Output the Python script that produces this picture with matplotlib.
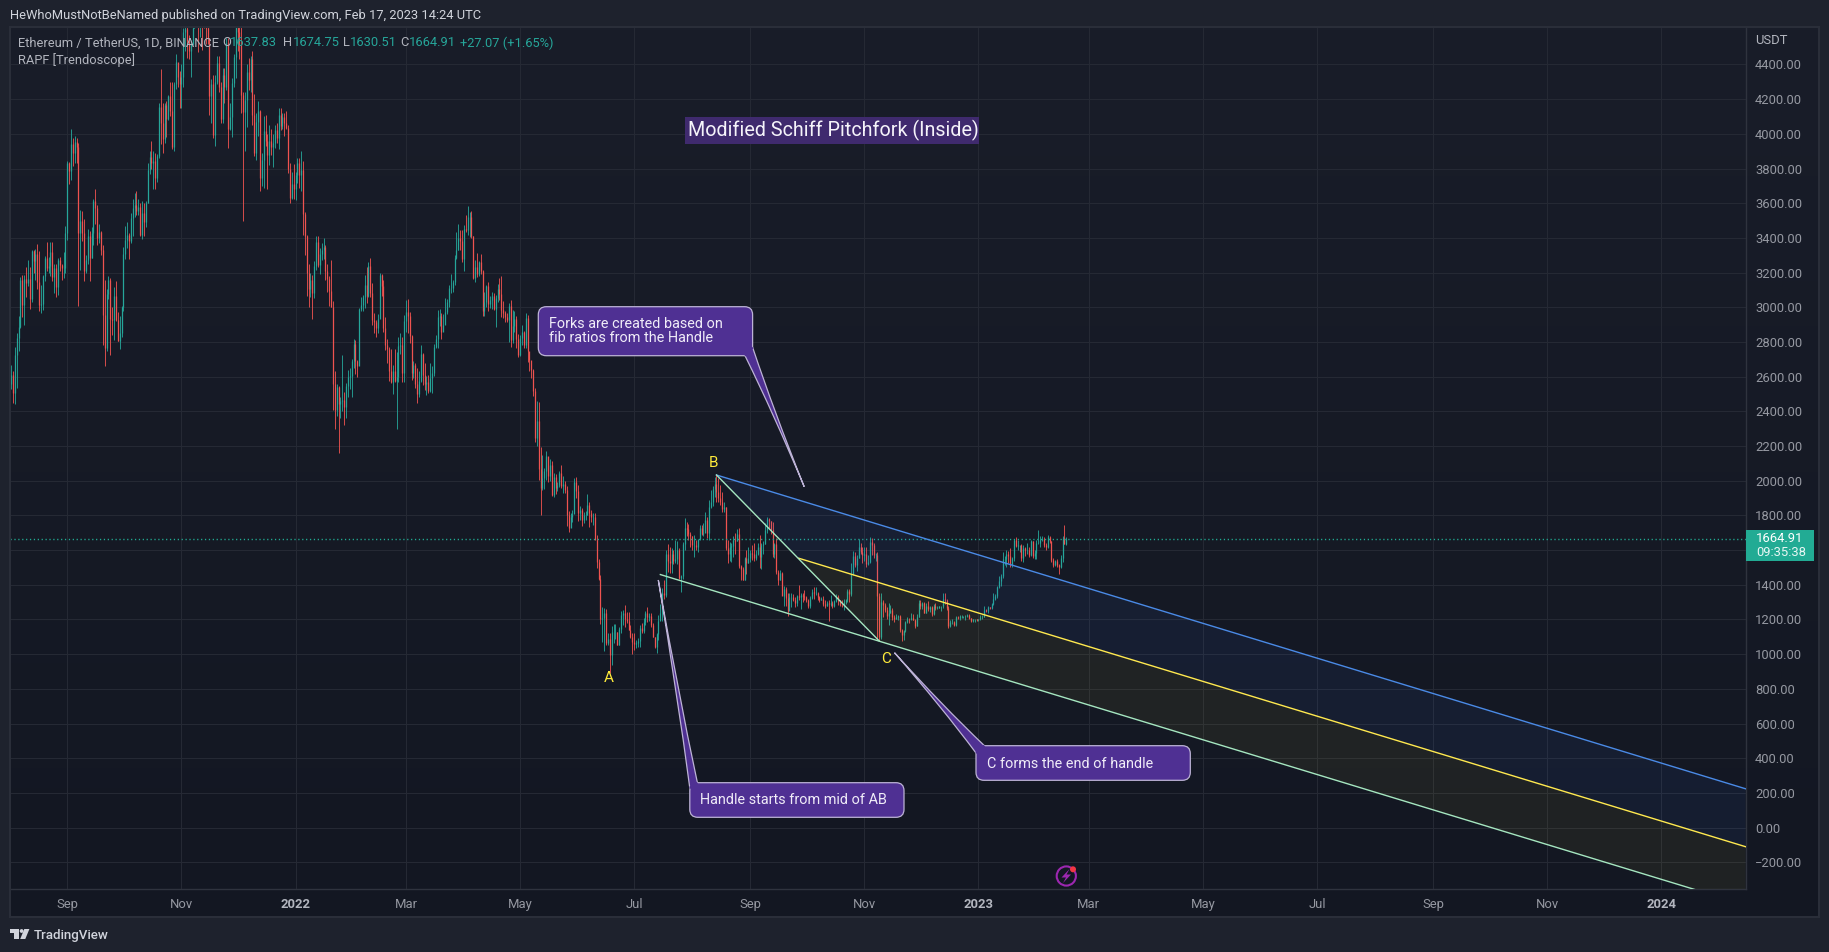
import matplotlib
matplotlib.use('Agg')
import matplotlib.pyplot as plt
import matplotlib.dates as mdates
import numpy as np
import pandas as pd
from matplotlib.patches import FancyBboxPatch, PathPatch, Circle, Polygon, Rectangle
from matplotlib.path import Path

plt.rcParams['font.family'] = ['Roboto', 'DejaVu Sans']

# daily candles, one row per month, Aug 2 2021 .. Feb 17 2023
closes = [
    2608,2507,2725,2825,2889,3157,3012,3163,3141,3164,3045,3322,3265,3309,3148,3013,3018,3181,3287,3225,3238,3320,3172,3227,3116,3274,3244,3224,3226,3431,
    3834,3787,3940,3887,3952,3927,3430,3497,3427,3211,3270,3410,3285,3429,3613,3570,3397,3434,3329,2958,2764,3077,3155,2930,2925,3063,2927,2807,2849,3001,
    3310,3390,3418,3382,3515,3575,3587,3558,3579,3414,3544,3490,3603,3790,3866,3830,3846,3745,3875,4157,4060,3970,4167,4083,4219,4130,3925,4285,4415,4325,4288,
    4325,4588,4607,4537,4476,4518,4612,4807,4732,4636,4727,4668,4649,4610,4554,4216,4289,3992,4298,4410,4270,4087,4340,4270,4522,4030,4098,4294,4444,4630,
    4585,4510,4225,4125,4195,4355,4310,4430,4110,3890,4070,4130,3745,3850,4015,3960,3880,3960,3925,3945,4020,3975,4110,4045,4095,4065,4035,3795,3630,3710,3680,
    3765,3830,3760,3790,3540,3410,3195,3105,3155,3085,3240,3375,3245,3310,3330,3350,3210,3165,3095,3000,2560,2405,2540,2440,2460,2465,2425,2545,2600,2605,2690,
    2790,2690,2660,2990,3015,3060,3130,3065,3240,3080,2925,2915,2880,2930,3185,3125,2880,2785,2760,2630,2570,2635,2575,2600,2775,2780,2620,2920,
    2975,2950,2835,2620,2665,2555,2500,2575,2730,2610,2555,2570,2515,2590,2620,2770,2815,2945,2950,2860,2895,2970,3030,3110,3110,3145,3285,3330,3400,3385,3280,
    3450,3445,3520,3520,3410,3170,3235,3190,3260,3210,2980,3030,3120,3020,3040,3065,2990,3055,3105,3075,2985,2965,2945,2925,3010,2810,2890,2935,2815,2725,
    2825,2855,2780,2940,2750,2695,2640,2520,2245,2345,2070,1960,2015,2055,2145,2025,2090,1915,2020,1960,1975,2045,1970,1980,1945,1805,1725,1790,1810,1995,1940,
    1815,1830,1775,1805,1805,1860,1815,1790,1790,1660,1530,1435,1205,1210,1235,1065,1090,995,1125,1125,1125,1050,1145,1225,1240,1200,1190,1140,1100,1070,
    1060,1065,1075,1150,1135,1185,1240,1215,1220,1170,1100,1040,1115,1190,1235,1355,1340,1580,1540,1525,1575,1535,1550,1600,1440,1450,1635,1725,1720,1695,1680,
    1630,1630,1620,1665,1725,1695,1700,1775,1700,1850,1880,1955,1980,1935,1900,1880,1835,1850,1610,1575,1620,1625,1660,1655,1695,1510,1490,1430,1555,1525,1555,
    1585,1575,1555,1575,1615,1560,1630,1635,1715,1780,1765,1715,1575,1635,1475,1430,1470,1335,1375,1325,1250,1330,1330,1315,1295,1335,1330,1340,1335,1330,
    1310,1275,1325,1360,1350,1350,1330,1315,1320,1290,1280,1295,1290,1295,1275,1305,1330,1310,1285,1280,1300,1315,1365,1345,1460,1565,1515,1555,1620,1590,1570,
    1580,1520,1530,1645,1630,1570,1570,1335,1100,1300,1285,1255,1220,1240,1255,1215,1200,1215,1220,1140,1110,1135,1185,1205,1200,1210,1195,1165,1215,1295,
    1275,1295,1240,1280,1260,1270,1230,1280,1265,1265,1275,1275,1320,1310,1265,1165,1185,1185,1170,1215,1210,1220,1220,1220,1220,1225,1210,1190,1200,1200,1195,
    1200,1215,1215,1255,1250,1270,1265,1290,1320,1335,1385,1420,1450,1550,1550,1575,1565,1515,1555,1660,1625,1630,1630,1555,1610,1600,1600,1570,1650,1565,1585,
    1640,1640,1660,1665,1630,1615,1675,1650,1545,1515,1540,1515,1505,1555,1670,1637.83,1664.91,
]
highs = [
    2665,2630,2772,2850,2950,3175,3185,3185,3230,3275,3230,3330,3330,3335,3365,3325,3130,3185,3295,3375,3290,3375,3375,3250,3250,3285,3290,3250,3320,3470,
    3845,3840,4028,3975,3985,3975,3950,3560,3555,3510,3300,3450,3440,3460,3625,3680,3590,3480,3440,3360,3160,3105,3180,3170,3000,3115,3150,2970,2950,3010,
    3345,3470,3490,3430,3545,3625,3660,3670,3625,3600,3615,3600,3615,3830,3900,3960,3900,3890,3885,4180,4375,4180,4180,4190,4225,4300,4300,4300,4460,4400,4365,
    4400,4610,4665,4670,4570,4540,4660,4825,4870,4870,4780,4810,4700,4690,4770,4555,4315,4340,4340,4450,4450,4300,4380,4380,4555,4555,4180,4320,4460,4780,
    4780,4640,4650,4240,4240,4400,4440,4450,4480,4230,4120,4190,4140,3890,4100,4110,4000,4050,4030,4000,4050,4060,4150,4150,4120,4120,4130,4050,3830,3780,3825,
    3780,3860,3860,3900,3845,3550,3415,3250,3200,3185,3265,3410,3410,3340,3370,3400,3360,3250,3180,3270,3035,2630,2560,2545,2485,2725,2510,2565,2640,2650,2700,
    2815,2810,2695,2995,3060,3070,3185,3230,3260,3285,3140,2965,2925,2960,3200,3190,3160,2945,2815,2770,2760,2670,2760,2740,2830,2850,2830,2955,
    3040,3048,2973,2840,2690,2680,2650,2630,2780,2736,2680,2605,2610,2677,2660,2786,2840,2984,2988,2969,2961,3052,3047,3128,3192,3157,3301,3436,3480,3445,3445,
    3475,3532,3584,3551,3555,3411,3272,3315,3267,3307,3215,3086,3128,3144,3065,3086,3080,3071,3134,3167,3180,3036,2978,2969,3023,3042,2984,2980,2950,2846,
    2840,2898,2865,2969,2955,2706,2667,2644,2533,2460,2452,2192,2148,2071,2171,2138,2125,2113,2045,2037,1990,2055,2090,2030,2000,1969,1825,1812,1831,2017,2023,
    1975,1854,1840,1822,1825,1923,1875,1831,1812,1812,1687,1549,1456,1274,1264,1260,1120,1120,1164,1174,1174,1130,1158,1249,1255,1283,1245,1245,1168,1120,
    1120,1081,1091,1168,1178,1210,1250,1273,1240,1235,1178,1100,1120,1225,1289,1380,1430,1600,1635,1620,1610,1600,1658,1650,1610,1455,1648,1783,1763,1753,1706,
    1680,1687,1658,1660,1745,1745,1755,1818,1793,1889,1946,1970,2023,2033,2013,1975,1937,1880,1850,1658,1648,1640,1680,1700,1720,1725,1515,1505,1560,1600,1620,
    1600,1630,1640,1600,1640,1687,1640,1655,1755,1790,1785,1765,1764,1640,1667,1485,1485,1475,1395,1390,1350,1350,1350,1345,1330,1340,1400,1350,1350,1370,
    1335,1320,1335,1375,1385,1385,1360,1335,1330,1335,1310,1305,1310,1340,1305,1315,1345,1340,1315,1310,1320,1320,1375,1375,1523,1595,1590,1570,1665,1640,1620,
    1620,1620,1570,1677,1672,1640,1585,1590,1355,1350,1310,1295,1270,1295,1285,1265,1225,1230,1225,1225,1145,1140,1190,1215,1210,1235,1230,1200,1230,1312,
    1315,1300,1300,1295,1305,1280,1275,1290,1295,1275,1280,1280,1350,1350,1320,1275,1195,1200,1190,1220,1220,1225,1225,1222,1225,1230,1230,1210,1205,1205,1205,
    1205,1225,1225,1275,1260,1280,1270,1295,1355,1345,1395,1450,1460,1590,1565,1600,1595,1610,1560,1665,1675,1660,1630,1635,1630,1620,1640,1615,1660,1650,1600,
    1660,1715,1680,1680,1675,1640,1685,1680,1650,1555,1545,1550,1520,1570,1680,1745,1674.75,
]
lows = [
    2530,2450,2445,2535,2750,2880,2945,2900,3060,3120,2990,3030,3200,3160,3105,2980,2965,2985,3150,3210,3200,3180,3150,3080,3060,3070,3210,3160,3170,3200,
    3390,3710,3735,3815,3830,3830,3010,3215,3380,3150,3200,3250,3150,3285,3360,3480,3360,3370,3300,2780,2660,2750,3045,2725,2840,2810,2920,2805,2760,2830,
    2980,3280,3340,3280,3370,3410,3520,3530,3530,3410,3395,3410,3460,3600,3770,3800,3680,3680,3720,3860,3940,3890,3950,3980,4080,4100,3910,3900,4260,4270,4150,
    4150,4270,4480,4440,4430,4330,4515,4610,4650,4470,4560,4485,4610,4520,4520,4110,4060,3975,3930,4290,4240,4060,4060,4180,4250,3920,4020,3980,4270,4320,
    4480,4430,4120,3500,3900,4040,4250,4240,4050,3870,3850,3990,3670,3700,3690,3930,3680,3820,3880,3810,3920,3950,3915,4020,4030,3990,4030,3775,3600,3625,3625,
    3620,3715,3685,3670,3415,3300,3065,3000,3060,2930,3055,3215,3230,3190,3270,3280,3160,3090,3010,3000,2410,2300,2375,2160,2360,2400,2320,2360,2480,2530,2480,
    2650,2615,2600,2680,2980,2980,2995,3025,3060,3060,2900,2850,2830,2850,2975,3065,2855,2755,2680,2575,2565,2500,2570,2300,2570,2730,2570,2570,
    2860,2850,2792,2580,2590,2537,2450,2485,2571,2552,2523,2494,2504,2513,2505,2604,2763,2767,2892,2817,2888,2923,2960,3004,3080,3090,3128,3280,3330,3330,3263,
    3211,3436,3417,3407,3401,3165,3148,3176,3182,3192,2952,2952,3000,2978,2998,2990,2984,2888,3032,3042,2946,2936,2917,2917,2802,2773,2792,2860,2763,2715,
    2719,2782,2763,2763,2687,2635,2590,2490,2225,2202,2004,1802,1947,1952,2004,1990,2000,1910,1905,1925,1940,1965,1960,1930,1930,1741,1706,1735,1764,1812,1900,
    1770,1773,1741,1754,1775,1803,1731,1764,1745,1668,1495,1428,1174,1072,1020,1053,1053,890,937,1062,1090,1053,1053,1120,1170,1158,1180,1140,1091,1003,
    1024,1033,1043,1043,1120,1124,1170,1186,1190,1158,1101,1033,1008,1081,1197,1190,1320,1332,1475,1466,1470,1520,1524,1520,1431,1360,1435,1600,1680,1660,1620,
    1600,1562,1600,1590,1658,1687,1680,1735,1668,1658,1840,1855,1908,1880,1880,1860,1822,1820,1600,1524,1540,1530,1562,1580,1650,1495,1428,1428,1425,1465,1525,
    1530,1543,1540,1545,1570,1495,1490,1580,1635,1700,1730,1690,1562,1555,1465,1400,1430,1340,1280,1275,1221,1255,1270,1305,1270,1280,1310,1260,1300,1315,
    1300,1265,1265,1320,1320,1340,1315,1300,1310,1280,1265,1275,1193,1280,1265,1270,1300,1285,1280,1270,1255,1290,1300,1300,1335,1456,1505,1480,1552,1575,1525,
    1540,1505,1515,1523,1572,1553,1540,1085,1075,1090,1215,1245,1205,1170,1235,1195,1185,1200,1195,1125,1075,1080,1130,1180,1180,1195,1195,1150,1160,1215,
    1260,1260,1235,1240,1250,1245,1220,1225,1255,1260,1265,1250,1265,1290,1255,1150,1155,1175,1160,1165,1200,1195,1210,1210,1195,1215,1205,1185,1185,1185,1190,
    1190,1195,1205,1215,1245,1240,1260,1260,1285,1315,1325,1380,1395,1440,1515,1505,1525,1500,1500,1535,1615,1600,1590,1540,1530,1565,1575,1560,1565,1555,1550,
    1550,1635,1620,1650,1615,1600,1610,1640,1530,1505,1510,1505,1460,1495,1530,1637,1630.51,
]
first_open = 2557
first_day = '2021-08-02'
last_close = 1664.91

# axis ticks
price_ticks = [4400,4200,4000,3800,3600,3400,3200,3000,2800,2600,2400,2200,2000,1800,1600,1400,1200,1000,800,600,400,200,0,-200]
hidden_price_label = 1600  # sits under the last price tag
month_ticks = ['2021-09-01','2021-11-01','2022-01-01','2022-03-01','2022-05-01','2022-07-01','2022-09-01','2022-11-01','2023-01-01','2023-03-01','2023-05-01','2023-07-01','2023-09-01','2023-11-01','2024-01-01']
month_labels = ['Sep','Nov','2022','Mar','May','Jul','Sep','Nov','2023','Mar','May','Jul','Sep','Nov','2024']

# pitchfork anchors
chart_end = '2024-02-15'
b_date, b_price = '2022-08-14', 2033
c_date, c_price = '2022-11-09', 1076
handle_date, handle_price = '2022-07-15', 1459
mid_date, mid_price = '2022-09-27', 1553
upper_end, mid_end, lower_end = 224, -110, -446

BG_TOP = '#191d29'
BG_BOTTOM = '#131722'
OUTER = '#1e222d'
GRID = '#252934'
AXLINE = '#2f333e'
TICK = '#9598a1'
UP = '#26a69a'
DOWN = '#ef5350'
PURPLE = '#4f3093'
EDGE = '#bdb3d6'
W, H = 1829, 952


def fx(px):
    return px / W


def fy(px):
    return 1 - px / H


def dn(s):
    return mdates.date2num(pd.Timestamp(s))


def price_label(p):
    if p == hidden_price_label:
        return ''
    return '%.2f' % p if p >= 0 else '\u2212%.2f' % -p


fig = plt.figure(figsize=(W / 100, H / 100), dpi=100, facecolor=OUTER)

# panel background, dark gradient
bg = fig.add_axes([fx(10), fy(917), fx(1819 - 10), (917 - 27) / H])
bg.imshow(np.linspace(0, 1, 256).reshape(-1, 1), aspect='auto', extent=(0, 1, 0, 1),
          cmap=matplotlib.colors.LinearSegmentedColormap.from_list('p', [BG_TOP, BG_BOTTOM]))
bg.axis('off')

ax = fig.add_axes([fx(10), fy(889), fx(1745.5 - 10), (889 - 27) / H])
ax.patch.set_alpha(0)

days = pd.date_range(first_day, periods=len(closes))
x = mdates.date2num(days)
opens = np.array([first_open] + closes[:-1], dtype=float)
closes_a = np.array(closes, dtype=float)
up = closes_a >= opens
colors = np.where(up, UP, DOWN)
ax.vlines(x, lows, highs, colors=colors, lw=0.62, zorder=2)
ax.vlines(x, opens, closes_a, colors=colors, lw=0.9, zorder=2)

ax.axhline(last_close, color='#22ab94', lw=1.0, ls=(0, (0.9, 1.9)), zorder=2)

# fork zones and lines
xb, xc = dn(b_date), dn(c_date)
xh, xm = dn(handle_date), dn(mid_date)
xe = dn(chart_end)
ax.fill([xb, xe, xe, xm], [b_price, upper_end, mid_end, mid_price], color='#396fdf', alpha=0.08, lw=0, zorder=3)
ax.fill([xm, xe, xe, xc], [mid_price, mid_end, lower_end, c_price], color='#ffeb3b', alpha=0.055, lw=0, zorder=3)
ax.plot([xb, xe], [b_price, upper_end], color='#4a8ae6', lw=1.0, zorder=4)
ax.plot([xm, xe], [mid_price, mid_end], color='#ffe94f', lw=1.0, zorder=4)
ax.plot([xh, xe], [handle_price, lower_end], color='#a5e6c0', lw=1.0, zorder=4)
ax.plot([xb, xc], [b_price, c_price], color='#a5e6c0', lw=1.0, zorder=4)

ax.set_xlim(dn('2021-09-01') - 30.6, dn('2021-09-01') + 897)
ax.set_ylim(-354, 4616)

ax.yaxis.tick_right()
ax.set_yticks(price_ticks)
ax.set_yticklabels([price_label(p) for p in price_ticks])
ax.set_xticks([dn(m) for m in month_ticks])
ax.set_xticklabels(month_labels)
ax.tick_params(axis='both', length=0, colors=TICK, labelsize=9.4)
ax.tick_params(axis='y', pad=6.8)
ax.tick_params(axis='x', pad=6.6)
for lab in ax.get_xticklabels():
    if lab.get_text().isdigit():
        lab.set_fontweight('bold')
        lab.set_color('#b2b5be')
ax.grid(True, color=GRID, lw=0.8, zorder=1)
ax.set_axisbelow(True)
for side, sp in ax.spines.items():
    sp.set_visible(side in ('right', 'bottom'))
    sp.set_color(AXLINE)
    sp.set_linewidth(1)

# everything else is chart furniture placed in screen pixels
ov = fig.add_axes([0, 0, 1, 1], zorder=5)
ov.set_xlim(0, W)
ov.set_ylim(H, 0)
ov.axis('off')
ov.add_patch(Rectangle((10, 27), 1809, 890, fill=False, ec='#2a2e39', lw=1.5))


def callout(box, base1, base2, tip, lines, tx, ty):
    x0, y0, x1, y1 = box
    c1 = (base1[0] + (tip[0] - base1[0]) * 0.45 + (base2[0] - base1[0]) * 0.22,
          base1[1] + (tip[1] - base1[1]) * 0.45 + (base2[1] - base1[1]) * 0.22)
    c2 = (base2[0] + (tip[0] - base2[0]) * 0.45 + (base1[0] - base2[0]) * 0.22,
          base2[1] + (tip[1] - base2[1]) * 0.45 + (base1[1] - base2[1]) * 0.22)
    ov.add_patch(FancyBboxPatch((x0 + 8, y0 + 8), x1 - x0 - 16, y1 - y0 - 16,
                                boxstyle='round,pad=8,rounding_size=8',
                                fc=PURPLE, ec=EDGE, lw=0.9, zorder=3))
    verts = [base1, c1, tip, c2, base2, base1]
    codes = [Path.MOVETO, Path.CURVE3, Path.CURVE3, Path.CURVE3, Path.CURVE3, Path.CLOSEPOLY]
    ov.add_patch(PathPatch(Path(verts, codes), fc=PURPLE, ec='none', zorder=4))
    ov.add_patch(PathPatch(Path(verts[:5], codes[:5]), fc='none', ec=EDGE, lw=0.9, zorder=4))
    ov.plot([base1[0], base2[0]], [base1[1], base2[1]], color=PURPLE, lw=1.8, zorder=4, solid_capstyle='butt')
    for i, line in enumerate(lines):
        ov.text(tx, ty + i * 14, line, color='#f0ecf8', fontsize=10.4, va='center', ha='left', zorder=5)


callout((538.3, 306.7, 752.6, 355.7), (745, 355.7), (752.6, 347.3), (804.2, 486.7),
        ['Forks are created based on', 'fib ratios from the Handle'], 548.6, 324)
callout((689.8, 782.7, 904, 817.3), (689.8, 788), (697.4, 782.7), (658.3, 580),
        ['Handle starts from mid of AB'], 700.5, 799.8)
callout((976, 745.7, 1190.3, 780.3), (976, 753), (984.4, 745.7), (894.5, 652.7),
        ['C forms the end of handle'], 986.7, 763.5)

# title tag
ov.add_patch(Rectangle((685, 117.3), 294, 26.7, fc='#3f2a6e', ec='none'))
ov.text(688.5, 130.5, 'Modified Schiff Pitchfork (Inside)', color='#f5f3fa', fontsize=14.2, va='center', ha='left')

# pivot letters
for name, px, py in [('A', 608.3, 678.3), ('B', 714, 462.7), ('C', 886.5, 659.3)]:
    ov.text(px, py, name, color='#ffeb3b', fontsize=11, va='center', ha='center')

# header and legend
ov.text(10.5, 15.7, 'HeWhoMustNotBeNamed published on TradingView.com, Feb 17, 2023 14:24 UTC',
        color='#d1d4dc', fontsize=9.3, va='center')
LEG = '#b2b5be'
ov.text(18.4, 43, 'Ethereum / TetherUS, 1D, BINANCE', color=LEG, fontsize=9.3, va='center')
ov.text(18.4, 60, 'RAPF [Trendoscope]', color=LEG, fontsize=9.3, va='center')
for px, s, c in [(222.7, 'O', LEG), (230, '1637.83', UP), (283, 'H', LEG), (292.4, '1674.75', UP),
                 (342.5, 'L', LEG), (350, '1630.51', UP), (400, 'C', LEG), (408.7, '1664.91', UP),
                 (460, '+27.07 (+1.65%)', UP)]:
    ov.text(px, 43, s, color=c, fontsize=9.3, va='center')

ov.text(1755, 41, 'USDT', color='#b2b5be', fontsize=9.4, va='center')

# last price tag
ov.add_patch(Rectangle((1745.6, 530), 68.8, 31, fc='#22ab94', ec='none'))
ov.text(1756, 539, '1664.91', color='white', fontsize=9.4, va='center')
ov.text(1756, 553, '09:35:38', color='#e8f7f4', fontsize=9.4, va='center')

# lightning icon
ov.add_patch(Circle((1066.3, 876), 9.6, fc='none', ec='#9c27b0', lw=1.5))
ov.add_patch(Polygon([(1069.5, 869), (1061.5, 877.5), (1066, 877.5), (1063, 883), (1071, 874.5), (1066.5, 874.5)],
                     fc='#9c27b0', ec='none'))
ov.add_patch(Circle((1073, 869.3), 3, fc='#f23645', ec='none'))

# TradingView logo
ov.add_patch(Polygon([(10, 929), (19, 929), (19, 939), (14.3, 939), (14.3, 933), (10, 933)], fc='#d1d4dc', ec='none'))
ov.add_patch(Circle((21.6, 931), 1.9, fc='#d1d4dc', ec='none'))
ov.add_patch(Polygon([(24.3, 929), (29.4, 929), (25.3, 939), (20.2, 939)], fc='#d1d4dc', ec='none'))
ov.text(33.5, 935.5, 'TradingView', color='#d1d4dc', fontsize=9.6, va='center', fontweight='medium')

fig.savefig('out.png', dpi=100, facecolor=OUTER)
